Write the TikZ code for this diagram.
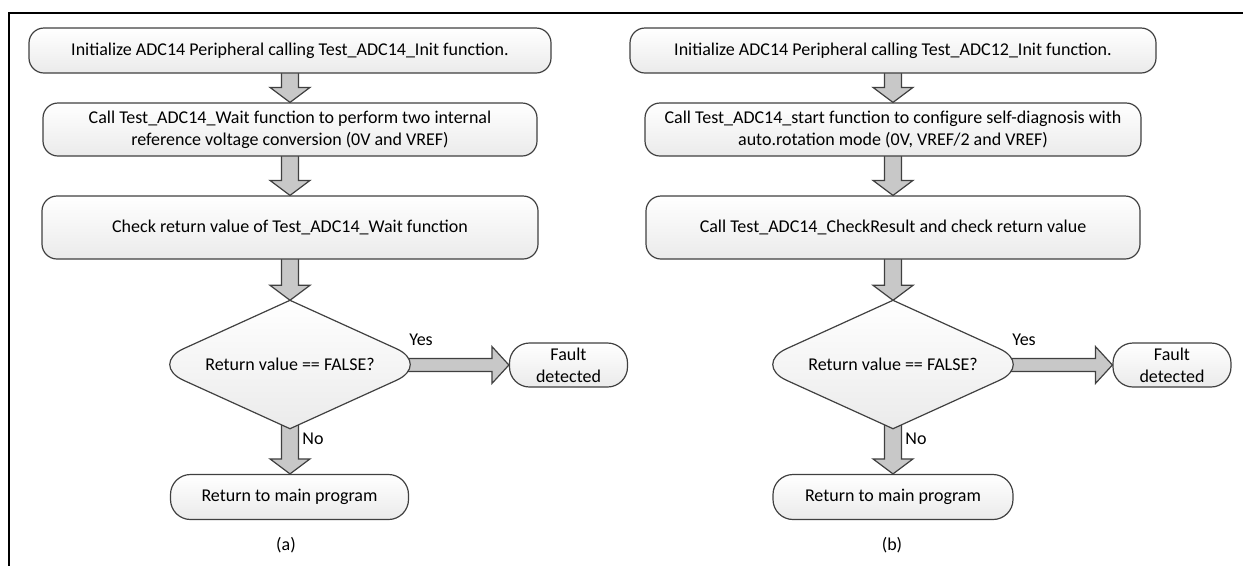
\documentclass[tikz,border=0pt]{standalone}
\usepackage{fontspec}
\setmainfont{Carlito}
\usepackage{tikz}
\usetikzlibrary{calc}
\usetikzlibrary{shapes.geometric,backgrounds}
\definecolor{edgegray}{HTML}{404040}
\definecolor{arrowgray}{HTML}{C8C8C8}
\tikzset{
  stepbox/.style={draw=edgegray, line width=1.2pt, rounded corners=15pt,
    top color=white, bottom color=black!8, align=center, inner sep=0pt,
    font=\fontsize{18}{22}\selectfont},
  endbox/.style={stepbox, rounded corners=20pt},
  decision/.style={diamond, aspect=2.2, minimum width=282, minimum height=128,
    inner sep=0pt, font=\fontsize{18}{22}\selectfont},
  decisionline/.style={draw=edgegray, line width=1.2pt,
    top color=white, bottom color=black!8},
  blockarrow/.style={draw=edgegray, fill=arrowgray, line width=1.2pt, line join=miter},
  lbl/.style={inner sep=0pt, font=\fontsize{18}{22}\selectfont}
}
\newcommand{\flowdown}[2]{%
  \draw[blockarrow] let \p1=(#1.south), \p2=(#2.north) in
    (\x1-8.5pt,\y1+4pt) -- (\x1+8.5pt,\y1+4pt) -- (\x1+8.5pt,\y2+15pt)
    -- (\x1+20pt,\y2+15pt) -- (\x1,\y2) -- (\x1-20pt,\y2+15pt)
    -- (\x1-8.5pt,\y2+15pt) -- cycle;}
\newcommand{\flowright}[2]{%
  \draw[blockarrow] let \p1=(#1.east), \p2=(#2.west) in
    (\x1-30pt,\y2+6.5pt) -- (\x2-17pt,\y2+6.5pt) -- (\x2-17pt,\y2+18.5pt)
    -- (\x2,\y2) -- (\x2-17pt,\y2-18.5pt) -- (\x2-17pt,\y2-6.5pt)
    -- (\x1-30pt,\y2-6.5pt) -- cycle;}

\begin{document}
\begin{tikzpicture}[x=1pt, y=-1pt]

    \useasboundingbox (0,0) rectangle (1243,566);

    % Frame: top & left edges
    \draw[line width=2.4pt] (1243,13) -- (9,13) -- (9,566);

    % Boxes: flowchart (a)
    \node[stepbox, minimum width=522, minimum height=45] (a1) at (290,50.5)
      {Initialize ADC14 Peripheral calling Test\_ADC14\_Init function.};
    \node[stepbox, minimum width=494, minimum height=53] (a2) at (290,129.5)
      {Call Test\_ADC14\_Wait function to perform two internal\\reference voltage conversion (0V and VREF)};
    \node[stepbox, minimum width=496, minimum height=63] (a3) at (290,227.5)
      {Check return value of Test\_ADC14\_Wait function};
    \node[decision] (ad) at (290,364.5) {Return value == FALSE?};
    \node[endbox, minimum width=118, minimum height=44] (af) at (568.5,365) {Fault\\detected};
    \node[endbox, minimum width=238, minimum height=45] (ar) at (289.5,497) {Return to main program};

    % Boxes: flowchart (b)
    \node[stepbox, minimum width=526, minimum height=45] (b1) at (893,50.5)
      {Initialize ADC14 Peripheral calling Test\_ADC12\_Init function.};
    \node[stepbox, minimum width=496, minimum height=53] (b2) at (893,129.5)
      {Call Test\_ADC14\_start function to configure self-diagnosis with\\auto.rotation mode (0V, VREF/2 and VREF)};
    \node[stepbox, minimum width=494, minimum height=63] (b3) at (893,227.5)
      {Call Test\_ADC14\_CheckResult and check return value};
    \node[decision] (bd) at (893,364.5) {Return value == FALSE?};
    \node[endbox, minimum width=118, minimum height=44] (bf) at (1172,365) {Fault\\detected};
    \node[endbox, minimum width=240, minimum height=45] (br) at (893,497) {Return to main program};

    % Labels: branches & captions
    \node[lbl] (ayes) at (421,340) {Yes};
    \node[lbl] (ano) at (313,439) {No};
    \node[lbl] (acap) at (286,545) {(a)};
    \node[lbl] (byes) at (1024,340) {Yes};
    \node[lbl] (bno) at (916,439) {No};
    \node[lbl] (bcap) at (892,545) {(b)};

    \begin{scope}[on background layer]
      % Block arrows
      \flowdown{a1}{a2}
      \flowdown{a2}{a3}
      \flowdown{a3}{ad}
      \flowdown{ad}{ar}
      \flowright{ad}{af}
      \flowdown{b1}{b2}
      \flowdown{b2}{b3}
      \flowdown{b3}{bd}
      \flowdown{bd}{br}
      \flowright{bd}{bf}

      % Decisions: diamonds with rounded side corners
      \foreach \dnode in {ad,bd} {
        \draw[decisionline] (\dnode.north)
          -- ($(\dnode.east)!38pt!(\dnode.north)$)
          .. controls ($(\dnode.east)!18pt!(\dnode.north)$) and ($(\dnode.east)!18pt!(\dnode.south)$)
          .. ($(\dnode.east)!38pt!(\dnode.south)$)
          -- (\dnode.south)
          -- ($(\dnode.west)!38pt!(\dnode.south)$)
          .. controls ($(\dnode.west)!18pt!(\dnode.south)$) and ($(\dnode.west)!18pt!(\dnode.north)$)
          .. ($(\dnode.west)!38pt!(\dnode.north)$)
          -- cycle;
      }
    \end{scope}

\end{tikzpicture}
\end{document}
